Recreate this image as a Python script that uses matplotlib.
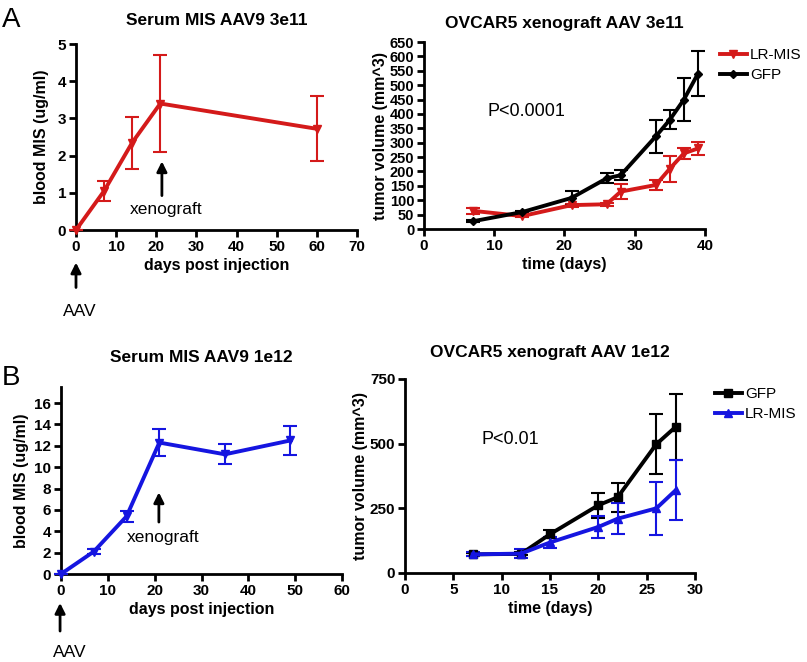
import matplotlib
matplotlib.use("Agg")
import matplotlib.pyplot as plt
from matplotlib.lines import Line2D

plt.rcParams['font.family'] = ['Liberation Sans', 'DejaVu Sans']

RED = '#d41a1a'
BLUE = '#1515e0'
BLACK = '#000000'

# Panel A left: serum MIS, AAV9 3e11
a_days = [0, 7, 14, 21, 60]
a_mis = [0.0, 1.05, 2.35, 3.4, 2.72]
a_mis_err = [0.0, 0.26, 0.7, 1.3, 0.87]

# Panel A right: OVCAR5 xenograft, AAV 3e11
ar_days = [7, 14, 21, 26, 28, 33, 35, 37, 39]
ar_lrmis = [63, 45, 83, 86, 130, 153, 210, 263, 280]
ar_lrmis_err = [11, 5, 5, 5, 25, 16, 45, 20, 24]
ar_gfp = [27, 59, 108, 176, 187, 322, 380, 450, 540]
ar_gfp_err = [3, 4, 25, 17, 18, 58, 33, 76, 78]

# Panel B left: serum MIS, AAV9 1e12
b_days = [0, 7, 14, 21, 35, 49]
b_mis = [0.0, 2.1, 5.4, 12.3, 11.2, 12.5]
b_mis_err = [0.0, 0.2, 0.5, 1.3, 0.95, 1.35]

# Panel B right: OVCAR5 xenograft, AAV 1e12
br_days = [7, 12, 15, 20, 22, 26, 28]
br_gfp = [72, 74, 150, 262, 293, 498, 565]
br_gfp_err = [5, 6, 15, 48, 56, 115, 128]
br_lrmis = [72, 75, 118, 178, 210, 250, 320]
br_lrmis_err = [8, 18, 22, 43, 60, 103, 117]

W, H = 807, 662
fig = plt.figure(figsize=(W / 100, H / 100), dpi=100)


def ax_at(left, right, top, bottom):
    return fig.add_axes([left / W, 1 - bottom / H, (right - left) / W, (bottom - top) / H])


def style(ax):
    for s in ['top', 'right']:
        ax.spines[s].set_visible(False)
    for s in ['left', 'bottom']:
        ax.spines[s].set_linewidth(2.0)
    ax.tick_params(direction='out', width=2.0, length=5, labelsize=11, pad=2)
    for lab in ax.get_xticklabels() + ax.get_yticklabels():
        lab.set_fontweight('bold')


def series(ax, x, y, e, color, marker, ms):
    ax.errorbar(x, y, yerr=e, color=color, lw=2.8, marker=marker, ms=ms,
                elinewidth=1.5, capsize=5, capthick=1.5, clip_on=False, zorder=3)


def handle(color, marker, ms):
    return Line2D([], [], color=color, lw=2.8, marker=marker, ms=ms)


def legend_at(ax, handles, labels, x_px, yc_px):
    ax.legend(handles, labels, loc='center left', bbox_to_anchor=(x_px / W, 1 - yc_px / H),
              bbox_transform=fig.transFigure, frameon=False, fontsize=11,
              handlelength=1.75, handletextpad=0.2, labelspacing=0.4,
              borderpad=0, borderaxespad=0)


ARROW = dict(arrowstyle='-|>,head_width=0.3,head_length=0.6', lw=2, color='black')

# ---------- A left
ax1 = ax_at(76, 357, 44, 230)
series(ax1, a_days, a_mis, a_mis_err, RED, 'v', 6)
ax1.set_xlim(0, 70)
ax1.set_ylim(0, 5)
ax1.set_xticks(range(0, 71, 10))
ax1.set_yticks(range(0, 6))
style(ax1)
ax1.set_xlabel('days post injection', fontsize=11.5, fontweight='bold', labelpad=3)
ax1.set_ylabel('blood MIS (ug/ml)', fontsize=11.5, fontweight='bold', labelpad=6)
ax1.set_title('Serum MIS AAV9 3e11', fontsize=12.5, fontweight='bold', pad=14)
ax1.annotate('', xy=(21.4, 1.92), xytext=(21.4, 0.85), arrowprops=ARROW)
ax1.text(22.4, 0.55, 'xenograft', fontsize=12.5, ha='center', va='center')
ax1.annotate('', xy=(0, -0.8), xytext=(0, -1.62), annotation_clip=False, arrowprops=ARROW)
ax1.text(1.0, -2.2, 'AAV', fontsize=12.5, ha='center', va='center', clip_on=False)

# ---------- A right
ax2 = ax_at(424, 705, 42, 229)
series(ax2, ar_days, ar_lrmis, ar_lrmis_err, RED, 'v', 6)
series(ax2, ar_days, ar_gfp, ar_gfp_err, BLACK, 'D', 4.5)
ax2.set_xlim(0, 40)
ax2.set_ylim(0, 650)
ax2.set_xticks(range(0, 41, 10))
ax2.set_yticks(range(0, 651, 50))
style(ax2)
ax2.tick_params(axis='y', labelsize=10.5)
for lab in ax2.get_yticklabels():
    lab.set_fontweight('bold')
ax2.set_xlabel('time (days)', fontsize=11.5, fontweight='bold', labelpad=3)
ax2.set_ylabel('tumor volume (mm^3)', fontsize=11.5, fontweight='bold', labelpad=1)
ax2.set_title('OVCAR5 xenograft AAV 3e11', fontsize=12.5, fontweight='bold', pad=10)
ax2.text(9.0, 407, 'P<0.0001', fontsize=13, ha='left', va='center')
legend_at(ax2, [handle(RED, 'v', 6), handle(BLACK, 'D', 4.5)], ['LR-MIS', 'GFP'], 720, 65)

# ---------- B left
ax3 = ax_at(61, 342, 387, 574)
series(ax3, b_days, b_mis, b_mis_err, BLUE, 'v', 6)
ax3.set_xlim(0, 60)
ax3.set_ylim(0, 17.5)
ax3.set_xticks(range(0, 61, 10))
ax3.set_yticks(range(0, 17, 2))
style(ax3)
ax3.set_xlabel('days post injection', fontsize=11.5, fontweight='bold', labelpad=3)
ax3.set_ylabel('blood MIS (ug/ml)', fontsize=11.5, fontweight='bold', labelpad=4)
ax3.set_title('Serum MIS AAV9 1e12', fontsize=12.5, fontweight='bold', pad=18)
ax3.annotate('', xy=(20.9, 7.9), xytext=(20.9, 4.6), arrowprops=ARROW)
ax3.text(21.8, 3.4, 'xenograft', fontsize=12.5, ha='center', va='center')
ax3.annotate('', xy=(-0.2, -2.45), xytext=(-0.2, -5.6), annotation_clip=False, arrowprops=ARROW)
ax3.text(1.9, -7.3, 'AAV', fontsize=12.5, ha='center', va='center', clip_on=False)

# ---------- B right
ax4 = ax_at(405, 695, 379, 573)
series(ax4, br_days, br_gfp, br_gfp_err, BLACK, 's', 6)
series(ax4, br_days, br_lrmis, br_lrmis_err, BLUE, '^', 6)
ax4.set_xlim(0, 30)
ax4.set_ylim(0, 750)
ax4.set_xticks(range(0, 31, 5))
ax4.set_yticks(range(0, 751, 250))
style(ax4)
ax4.set_xlabel('time (days)', fontsize=11.5, fontweight='bold', labelpad=3)
ax4.set_ylabel('tumor volume (mm^3)', fontsize=11.5, fontweight='bold', labelpad=1)
ax4.set_title('OVCAR5 xenograft AAV 1e12', fontsize=12.5, fontweight='bold', pad=16)
ax4.text(7.9, 518, 'P<0.01', fontsize=13, ha='left', va='center')
legend_at(ax4, [handle(BLACK, 's', 6), handle(BLUE, '^', 6)], ['GFP', 'LR-MIS'], 715, 404)

fig.text(2 / W, 1 - 20 / H, 'A', fontsize=20, ha='left', va='center')
fig.text(2 / W, 1 - 378 / H, 'B', fontsize=20, ha='left', va='center')

fig.savefig('out.png', dpi=100)
